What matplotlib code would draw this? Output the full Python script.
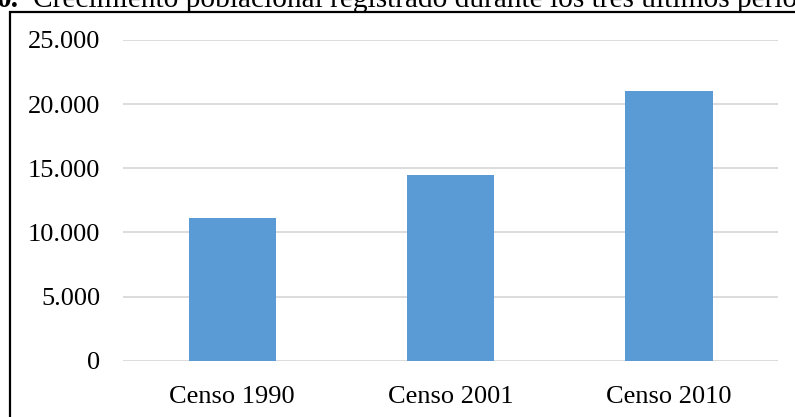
import matplotlib.pyplot as plt
from matplotlib.patches import Rectangle
from matplotlib.ticker import FuncFormatter

# Data
categorias = ['Censo 1990', 'Censo 2001', 'Censo 2010']
poblacion = [11100, 14500, 21000]
ticks_y = [0, 5000, 10000, 15000, 20000, 25000]

plt.rcParams['font.family'] = ['Liberation Serif', 'DejaVu Serif']
W, H = 795, 417
fig = plt.figure(figsize=(W / 100, H / 100), dpi=100)

# Outer frame (only left and top edges visible in the crop)
fig.add_artist(Rectangle((10 / W, -0.1), 1.2, (H - 12) / H + 0.1,
                         transform=fig.transFigure, fill=False,
                         edgecolor='black', linewidth=1.6))

# Title, clipped at the top of the image
fig.text(19 / W, 1 - 7 / H, '0.', fontsize=21.2, fontweight='bold',
         ha='right', va='baseline')
fig.text(33 / W, 1 - 7 / H,
         'Crecimiento poblacional registrado durante los tres últimos períodos',
         fontsize=21.2, ha='left', va='baseline')

ax = fig.add_axes([123 / W, (H - 360.7) / H, 655 / W, 320.7 / H])
x = range(len(categorias))
ax.bar(x, poblacion, width=0.4, color='#5B9BD5', zorder=3)

ax.set_xlim(-0.5, len(categorias) - 0.5)
ax.set_ylim(0, 25000)
ax.set_yticks(ticks_y)
ax.yaxis.set_major_formatter(FuncFormatter(lambda v, p: f'{int(v):,}'.replace(',', '.')))
ax.set_xticks(list(x))
ax.set_xticklabels(categorias)
ax.grid(axis='y', color='#d9d9d9', linewidth=1.3, zorder=0)
for s in ax.spines.values():
    s.set_visible(False)
ax.tick_params(axis='both', length=0, labelsize=19, colors='black')
ax.tick_params(axis='y', pad=16.5)
ax.tick_params(axis='x', pad=18.5)

fig.savefig('out.png', dpi=100)
